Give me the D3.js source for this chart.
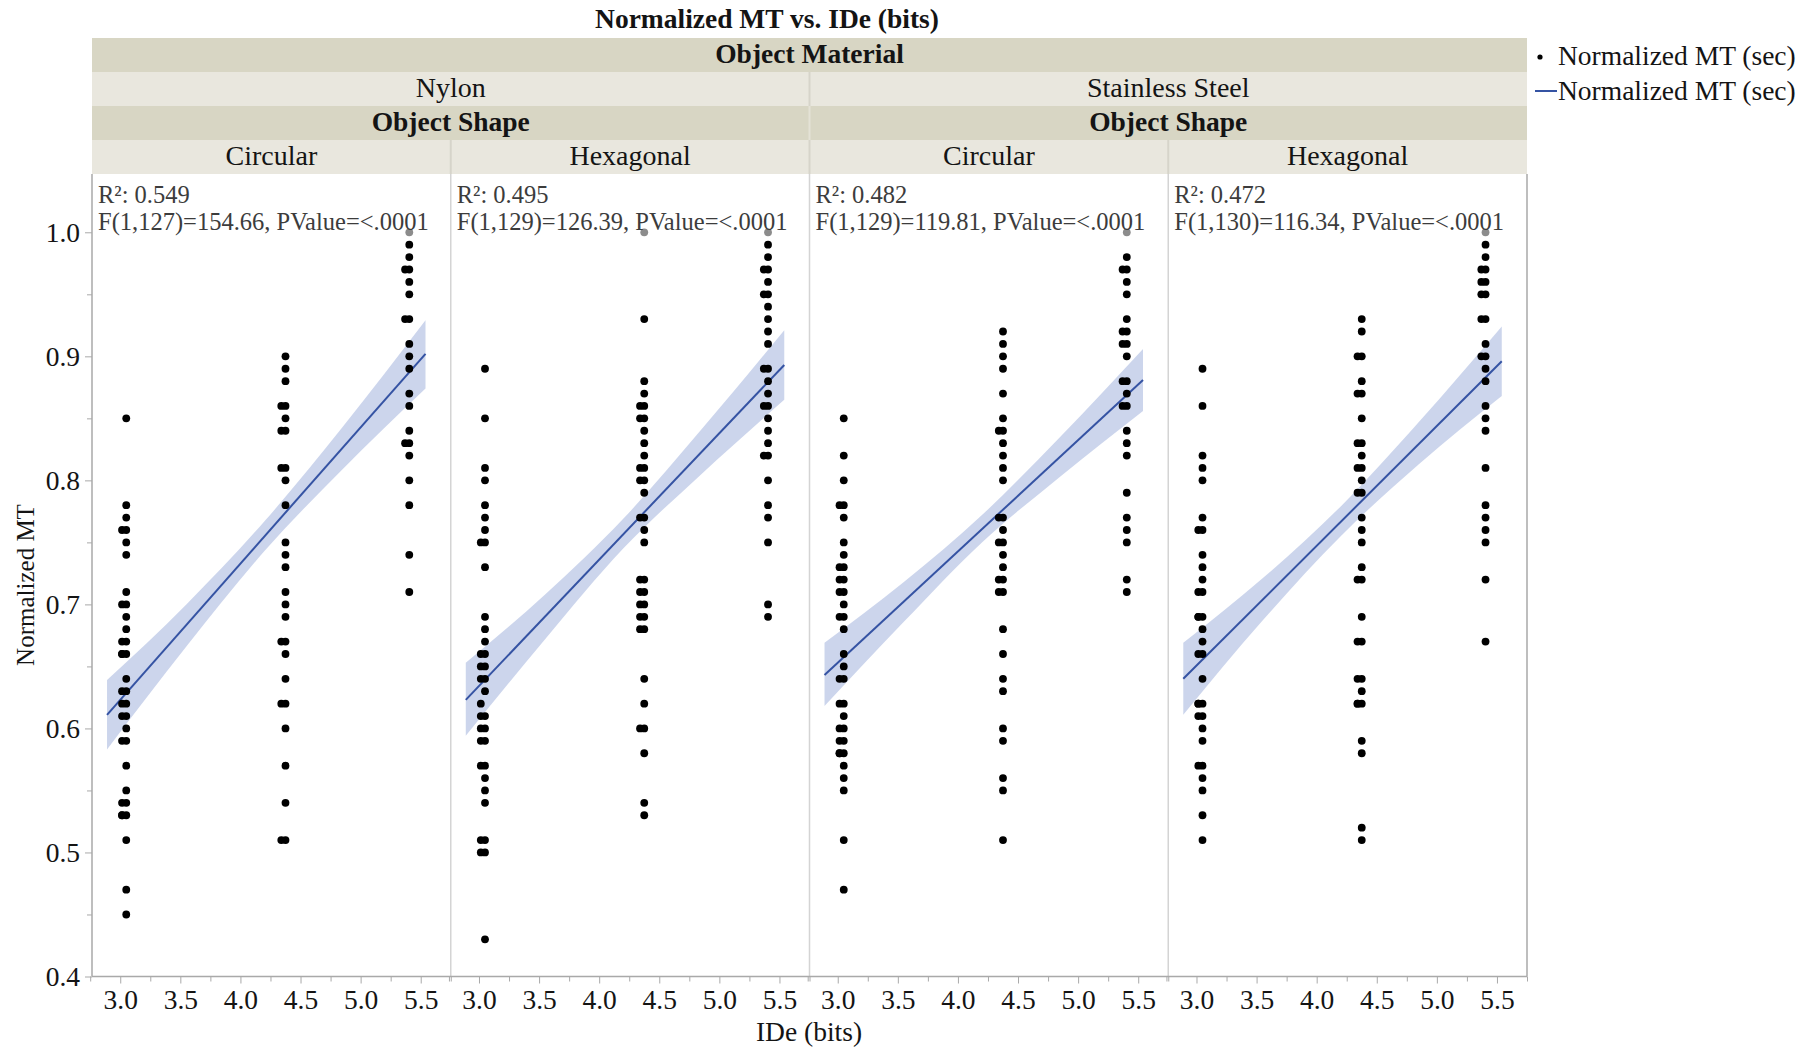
<!DOCTYPE html>
<html>
<head>
<meta charset="utf-8">
<script src="https://cdn.jsdelivr.net/npm/d3@7"></script>
<style>
  body { margin: 0; background: #fff; }
  text { font-family: "Liberation Serif", "Times New Roman", serif; }
</style>
</head>
<body>
<svg id="chart"></svg>
<script>
/*
    DATA
*/
var materials = ["Nylon", "Stainless Steel"];
var shapes = ["Circular", "Hexagonal"];
var panelNames = ["Nylon Circular", "Nylon Hexagonal", "Steel Circular", "Steel Hexagonal"];

var rSquared = ["0.549", "0.495", "0.482", "0.472"];
var fTests = ["F(1,127)=154.66, PValue=<.0001", "F(1,129)=126.39, PValue=<.0001",
              "F(1,129)=119.81, PValue=<.0001", "F(1,130)=116.34, PValue=<.0001"];

var yTicks = [0.4, 0.5, 0.6, 0.7, 0.8, 0.9, 1.0];
var xTicks = [3.0, 3.5, 4.0, 4.5, 5.0, 5.5];

// IDe columns the points sit in, and where the second dot of a pair sits
var colIDe = [3.05, 4.375, 5.405];
var colIDeAlt = [3.015, 4.34, 5.37];

// Nylon / Circular
var nyCir1 = [0.85, 0.78, 0.77, 0.76, 0.75, 0.74, 0.71, 0.70, 0.69, 0.68, 0.67, 0.66, 0.64, 0.63, 0.62, 0.61, 0.60, 0.59, 0.57, 0.55, 0.54, 0.53, 0.51, 0.47, 0.45];
var nyCir1b = [0.76, 0.70, 0.67, 0.66, 0.66, 0.63, 0.62, 0.61, 0.59, 0.54, 0.53, 0.53];
var nyCir2 = [0.90, 0.89, 0.88, 0.86, 0.85, 0.84, 0.81, 0.80, 0.78, 0.75, 0.74, 0.73, 0.71, 0.70, 0.69, 0.67, 0.66, 0.64, 0.62, 0.60, 0.57, 0.54, 0.51];
var nyCir2b = [0.86, 0.84, 0.81, 0.67, 0.62, 0.51];
var nyCir3 = [1.00, 0.99, 0.98, 0.97, 0.96, 0.95, 0.93, 0.91, 0.90, 0.89, 0.87, 0.86, 0.84, 0.83, 0.82, 0.80, 0.78, 0.74, 0.71];
var nyCir3b = [0.97, 0.93, 0.83];

// Nylon / Hexagonal
var nyHex1 = [0.89, 0.85, 0.81, 0.80, 0.78, 0.77, 0.76, 0.75, 0.73, 0.69, 0.68, 0.67, 0.66, 0.65, 0.64, 0.63, 0.61, 0.60, 0.59, 0.57, 0.56, 0.55, 0.54, 0.51, 0.50, 0.43];
var nyHex1b = [0.75, 0.66, 0.65, 0.64, 0.62, 0.61, 0.60, 0.59, 0.57, 0.51, 0.50];
var nyHex2 = [1.00, 0.93, 0.88, 0.87, 0.86, 0.85, 0.84, 0.83, 0.82, 0.81, 0.80, 0.79, 0.77, 0.76, 0.75, 0.72, 0.71, 0.70, 0.69, 0.68, 0.64, 0.62, 0.60, 0.58, 0.54, 0.53];
var nyHex2b = [0.86, 0.85, 0.81, 0.80, 0.77, 0.72, 0.71, 0.70, 0.69, 0.68, 0.60];
var nyHex3 = [1.00, 0.99, 0.98, 0.97, 0.96, 0.95, 0.94, 0.93, 0.92, 0.91, 0.89, 0.88, 0.87, 0.86, 0.85, 0.84, 0.83, 0.82, 0.80, 0.78, 0.77, 0.75, 0.70, 0.69];
var nyHex3b = [0.97, 0.95, 0.89, 0.86, 0.82];

// Stainless Steel / Circular
var ssCir1 = [0.85, 0.82, 0.80, 0.78, 0.77, 0.75, 0.74, 0.73, 0.72, 0.71, 0.70, 0.69, 0.68, 0.66, 0.65, 0.64, 0.62, 0.61, 0.60, 0.59, 0.58, 0.57, 0.56, 0.55, 0.51, 0.47];
var ssCir1b = [0.78, 0.73, 0.72, 0.71, 0.69, 0.64, 0.62, 0.60, 0.59, 0.58, 0.58];
var ssCir2 = [0.92, 0.91, 0.90, 0.89, 0.87, 0.85, 0.84, 0.83, 0.82, 0.81, 0.80, 0.77, 0.76, 0.75, 0.74, 0.73, 0.72, 0.71, 0.68, 0.66, 0.64, 0.63, 0.60, 0.59, 0.56, 0.55, 0.51];
var ssCir2b = [0.84, 0.77, 0.75, 0.72, 0.71];
var ssCir3 = [1.00, 0.98, 0.97, 0.96, 0.95, 0.93, 0.92, 0.91, 0.90, 0.88, 0.87, 0.86, 0.84, 0.83, 0.82, 0.79, 0.77, 0.76, 0.75, 0.72, 0.71];
var ssCir3b = [0.97, 0.92, 0.91, 0.88, 0.86];

// Stainless Steel / Hexagonal
var ssHex1 = [0.89, 0.86, 0.82, 0.81, 0.80, 0.77, 0.76, 0.74, 0.73, 0.72, 0.71, 0.69, 0.68, 0.67, 0.66, 0.64, 0.62, 0.61, 0.60, 0.59, 0.57, 0.56, 0.55, 0.53, 0.51];
var ssHex1b = [0.76, 0.71, 0.69, 0.69, 0.66, 0.62, 0.62, 0.61, 0.57];
var ssHex2 = [0.93, 0.92, 0.90, 0.88, 0.87, 0.85, 0.83, 0.82, 0.81, 0.80, 0.79, 0.77, 0.76, 0.75, 0.73, 0.72, 0.69, 0.67, 0.64, 0.63, 0.62, 0.59, 0.58, 0.52, 0.51];
var ssHex2b = [0.90, 0.87, 0.83, 0.81, 0.79, 0.72, 0.67, 0.64, 0.62, 0.62];
var ssHex3 = [1.00, 0.99, 0.98, 0.97, 0.96, 0.95, 0.93, 0.91, 0.90, 0.89, 0.88, 0.86, 0.85, 0.84, 0.81, 0.78, 0.77, 0.76, 0.75, 0.72, 0.67];
var ssHex3b = [0.97, 0.96, 0.95, 0.93, 0.90];

var panelCols = [
  [[nyCir1, nyCir1b], [nyCir2, nyCir2b], [nyCir3, nyCir3b]],
  [[nyHex1, nyHex1b], [nyHex2, nyHex2b], [nyHex3, nyHex3b]],
  [[ssCir1, ssCir1b], [ssCir2, ssCir2b], [ssCir3, ssCir3b]],
  [[ssHex1, ssHex1b], [ssHex2, ssHex2b], [ssHex3, ssHex3b]]
];

// fitted line ends and confidence band edges
var fitX = [2.89, 5.54];
var fitY = [[0.611, 0.902], [0.623, 0.893], [0.643, 0.881], [0.640, 0.896]];
var bandX = [2.89, 3.55, 4.2, 4.85, 5.54];
var bandLo = [[0.583, 0.666, 0.743, 0.809, 0.874], [0.594, 0.672, 0.745, 0.805, 0.865],
              [0.618, 0.686, 0.750, 0.803, 0.856], [0.611, 0.687, 0.755, 0.813, 0.868]];
var bandHi = [[0.639, 0.700, 0.767, 0.843, 0.929], [0.653, 0.708, 0.769, 0.841, 0.921],
              [0.669, 0.718, 0.772, 0.835, 0.906], [0.669, 0.721, 0.779, 0.847, 0.924]];

/*
    LAYOUT
*/
var width = 1820, height = 1049;
var plotLeft = 92, plotRight = 1527, plotTop = 174, plotBottom = 976.5;
var rowTops = [38, 72, 106, 140];
var rowH = 34;

var darkBand = "#d8d6c4", lightBand = "#e9e7de";
var lineBlue = "#3553a3", bandBlue = "#c6d0ea";
var axisGrey = "#a9a9a9", textCol = "#141414";
var serif = '"Liberation Serif", "Times New Roman", serif';

var svg = d3.select("#chart").attr("width", width).attr("height", height);

var panelScale = d3.scaleBand().domain(panelNames).range([plotLeft, plotRight]).padding(0);
var pw = panelScale.bandwidth();
var x = d3.scaleLinear().domain([2.765, 5.75]).range([0, pw]);
var y = d3.scaleLinear().domain([0.4, 1.047]).range([plotBottom, plotTop]);

// title
svg.append("text")
  .attr("x", 767).attr("y", 28)
  .attr("text-anchor", "middle")
  .style("font-size", "27.5px").style("font-weight", "bold").style("fill", textCol)
  .text("Normalized MT vs. IDe (bits)");

/*
    HEADER STRIPS
*/
function headerRow(top, cells, fill, bold, size, divider) {
  var n = cells.length, cw = (plotRight - plotLeft) / n;
  cells.forEach(function(label, i) {
    svg.append("rect")
      .attr("x", plotLeft + i * cw).attr("y", top)
      .attr("width", cw).attr("height", rowH)
      .style("fill", fill);
    svg.append("text")
      .attr("x", plotLeft + i * cw + cw / 2).attr("y", top + rowH / 2)
      .attr("dy", "0.3em")
      .attr("text-anchor", "middle")
      .style("font-size", size).style("font-weight", bold ? "bold" : "normal")
      .style("fill", textCol)
      .text(label);
  });
  for (var i = 1; i < n; i++) {
    svg.append("line")
      .attr("x1", plotLeft + i * cw).attr("x2", plotLeft + i * cw)
      .attr("y1", top).attr("y2", top + rowH)
      .style("stroke", divider).style("stroke-width", 2);
  }
}

headerRow(rowTops[0], ["Object Material"], darkBand, true, "27.5px", "#f3f2ec");
headerRow(rowTops[1], materials, lightBand, false, "28px", "#d6d4ca");
headerRow(rowTops[2], ["Object Shape", "Object Shape"], darkBand, true, "27.5px", "#e4e2d6");
headerRow(rowTops[3], shapes.concat(shapes), lightBand, false, "28px", "#d6d4ca");

/*
    PANELS
*/
var band = d3.area()
  .x(function(d) { return x(d[0]); })
  .y0(function(d) { return y(d[1]); })
  .y1(function(d) { return y(d[2]); })
  .curve(d3.curveMonotoneX);

panelNames.forEach(function(name, p) {
  var g = svg.append("g").attr("transform", "translate(" + panelScale(name) + ",0)");

  // confidence band
  var bandData = bandX.map(function(bx, i) { return [bx, bandLo[p][i], bandHi[p][i]]; });
  g.append("path").datum(bandData)
    .attr("d", band)
    .style("fill", bandBlue).style("opacity", 0.9);

  // fit line
  g.append("line")
    .attr("x1", x(fitX[0])).attr("y1", y(fitY[p][0]))
    .attr("x2", x(fitX[1])).attr("y2", y(fitY[p][1]))
    .style("stroke", lineBlue).style("stroke-width", 2);

  // points
  var pts = [];
  panelCols[p].forEach(function(col, c) {
    col[0].forEach(function(v) { pts.push([colIDe[c], v]); });
    col[1].forEach(function(v) { pts.push([colIDeAlt[c], v]); });
  });
  g.selectAll(".pt").data(pts).enter().append("circle")
    .attr("class", "pt")
    .attr("cx", function(d) { return x(d[0]); })
    .attr("cy", function(d) { return y(d[1]); })
    .attr("r", 3.9)
    .style("fill", "#000");

  // statistics text, over a faint white backing like the original
  g.append("rect")
    .attr("x", 2).attr("y", 178).attr("width", pw - 6).attr("height", 59)
    .style("fill", "#fff").style("opacity", 0.55);
  g.append("text")
    .attr("x", 6).attr("y", 203)
    .style("font-size", "24.5px").style("fill", "#3c3c3c")
    .text("R\u00B2: " + rSquared[p]);
  g.append("text")
    .attr("x", 6).attr("y", 230)
    .style("font-size", "24.5px").style("fill", "#3c3c3c")
    .text(fTests[p]);

  // x axis
  var xMinor = g.append("g")
    .attr("transform", "translate(0," + plotBottom + ")")
    .call(d3.axisBottom(x).tickValues([2.75, 3.25, 3.75, 4.25, 4.75, 5.25, 5.75]).tickSize(5).tickFormat(""));
  var xAxis = g.append("g")
    .attr("transform", "translate(0," + plotBottom + ")")
    .call(d3.axisBottom(x).tickValues(xTicks).tickSize(7).tickPadding(6).tickFormat(d3.format(".1f")));
  [xMinor, xAxis].forEach(function(a) {
    a.select(".domain").remove();
    a.selectAll("line").style("stroke", axisGrey);
  });
  xAxis.selectAll("text").style("font-size", "27.5px").style("fill", textCol)
    .style("font-family", serif);

  // panel divider on the right
  g.append("line")
    .attr("x1", pw).attr("x2", pw).attr("y1", plotTop).attr("y2", plotBottom)
    .style("stroke", p === 3 ? axisGrey : "#d4d4d4").style("stroke-width", 1.5);
});

// bottom and left axis lines
svg.append("line")
  .attr("x1", plotLeft).attr("x2", plotRight).attr("y1", plotBottom).attr("y2", plotBottom)
  .style("stroke", axisGrey).style("stroke-width", 1.5);

var yMinor = svg.append("g")
  .attr("transform", "translate(" + plotLeft + ",0)")
  .call(d3.axisLeft(y).tickValues([0.45, 0.55, 0.65, 0.75, 0.85, 0.95]).tickSize(5).tickFormat(""));
var yAxis = svg.append("g")
  .attr("transform", "translate(" + plotLeft + ",0)")
  .call(d3.axisLeft(y).tickValues(yTicks).tickSize(7).tickPadding(5).tickFormat(d3.format(".1f")));
yMinor.select(".domain").remove();
yMinor.selectAll("line").style("stroke", axisGrey);
yAxis.select(".domain").remove();
yAxis.selectAll("line").style("stroke", axisGrey);
yAxis.selectAll("text").style("font-size", "27.5px").style("fill", textCol)
  .style("font-family", serif);
svg.append("line")
  .attr("x1", plotLeft).attr("x2", plotLeft).attr("y1", plotTop).attr("y2", plotBottom)
  .style("stroke", axisGrey).style("stroke-width", 1.5);

// axis titles
svg.append("text")
  .attr("x", 809).attr("y", 1031).attr("dy", "0.35em")
  .attr("text-anchor", "middle")
  .style("font-size", "27.5px").style("fill", textCol)
  .text("IDe (bits)");
svg.append("text")
  .attr("transform", "translate(25,585) rotate(-90)")
  .attr("dy", "0.35em")
  .attr("text-anchor", "middle")
  .style("font-size", "25px").style("fill", textCol)
  .text("Normalized MT");

/*
    LEGEND
*/
var legend = svg.append("g");
legend.append("circle").attr("cx", 1540).attr("cy", 57).attr("r", 2.6).style("fill", "#000");
legend.append("text").attr("x", 1558).attr("y", 57).attr("dy", "0.3em")
  .style("font-size", "27.5px").style("fill", textCol).text("Normalized MT (sec)");
legend.append("line").attr("x1", 1535).attr("x2", 1557).attr("y1", 91).attr("y2", 91)
  .style("stroke", lineBlue).style("stroke-width", 2);
legend.append("text").attr("x", 1558).attr("y", 92).attr("dy", "0.3em")
  .style("font-size", "27.5px").style("fill", textCol).text("Normalized MT (sec)");
</script>
</body>
</html>
